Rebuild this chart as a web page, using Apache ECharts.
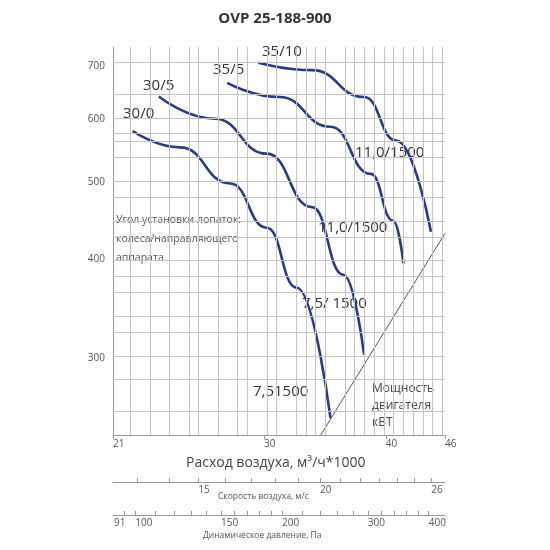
<!DOCTYPE html>
<html><head><meta charset="utf-8">
<script src="https://cdn.jsdelivr.net/npm/echarts@6/dist/echarts.min.js"></script>
<style>html,body{margin:0;padding:0;background:#fff}#c{width:550px;height:550px}</style>
</head><body><div id="c"></div>
<script>
// Air flow (m3/h*1000) and pressure (Pa)
const flow_30_0 = [22.0, 24.6, 27.7, 30.2, 32.4, 35.1];
const pres_30_0 = [580, 553, 498, 438, 368, 252];
const flow_30_5 = [23.4, 26.7, 30.2, 33.6, 36.2, 38.0];
const pres_30_5 = [641, 601, 543, 465, 382, 303];
const flow_35_5 = [27.5, 31.1, 35.1, 38.6, 40.7, 41.7];
const pres_35_5 = [667, 640, 587, 512, 447, 395];
const flow_35_10 = [29.6, 33.6, 38.0, 41.0, 44.5];
const pres_35_10 = [707, 692, 640, 564, 433];
const powerFlow = [34.3, 46];
const powerPres = [240, 431];
const xTicks = [21, 30, 40, 46];
const yTicks = [300, 400, 500, 600, 700];
const speedTicks = [13,14,15,16,17,18,19,20,21,22,23,24,25,26];
const speedLabels = [15, 20, 26];
const presTicks = [90,95,100,110,120,130,140,150,160,170,180,190,200,220,240,260,280,300,320,340,360,380,400];
const presLabels = [90.5, 100, 150, 200, 300, 400];
const gridX = [22,23,24,25,26,27,28,29,30,31,32,33,34,35,36,37,38,39,40,41,42,43,44,45];
const gridY = [260,280,300,320,340,360,380,400,425,450,475,500,540,560,580,600,650,700];

const L = Math.log10;
const SPEED_K = 0.584, PRES_C = -0.69;
const pair = (xs, ys) => xs.map((x, i) => [L(x), L(ys[i])]);
const ax = { color:'#555', fontSize:10, fontFamily:'Open Sans' };
const FONT = 'Open Sans';
const curve = (d) => ({ type:'line', data:d, smooth:true, smoothMonotone:'x', symbol:'none', lineStyle:{color:'#2b3a87', width:2.6}, silent:true });

const chart = echarts.init(document.getElementById('c'), null, {renderer:'canvas'});
chart.setOption({
  animation:false,
  grid:{left:113, right:105, top:47, bottom:115},
  title:{text:'OVP 25-188-900', left:'center', top:6, textStyle:{fontFamily:FONT, fontSize:15, fontWeight:'bold', color:'#333'}},
  xAxis:[
    {type:'value', min:L(21), max:L(46), position:'bottom',
     axisLine:{show:true, lineStyle:{color:'#999'}},
     axisTick:{show:true, customValues:xTicks.map(L), length:4, lineStyle:{color:'#999'}},
     axisLabel:{...ax, customValues:xTicks.map(L), formatter:v=>Math.round(Math.pow(10,v)), align:'left', margin:4},
     splitLine:{show:false}},
    {type:'value', min:L(21*SPEED_K), max:L(46*SPEED_K), position:'bottom', offset:47,
     axisLine:{show:true, lineStyle:{color:'#999'}},
     axisTick:{show:true, inside:true, customValues:speedTicks.map(L), length:4, lineStyle:{color:'#999'}},
     axisLabel:{...ax, customValues:speedLabels.map(L), formatter:v=>Math.round(Math.pow(10,v)), align:'left', margin:3},
     splitLine:{show:false}},
    {type:'value', min:2*L(21)+PRES_C, max:2*L(46)+PRES_C, position:'bottom', offset:80,
     axisLine:{show:true, lineStyle:{color:'#999'}},
     axisTick:{show:true, inside:true, customValues:presTicks.map(L), length:4, lineStyle:{color:'#999'}},
     axisLabel:{...ax, customValues:presLabels.map(L), showMinLabel:true, hideOverlap:false, formatter:v=>Math.round(Math.pow(10,v)), align:'left', margin:3},
     splitLine:{show:false}}
  ],
  yAxis:{type:'value', min:L(240), max:L(740),
     axisLine:{show:true, lineStyle:{color:'#999'}},
     axisTick:{show:false},
     axisLabel:{...ax, customValues:yTicks.map(L), formatter:v=>Math.round(Math.pow(10,v)), margin:8},
     splitLine:{show:false}},
  series:[
    {type:'line', data:[], silent:true,
     markLine:{silent:true, symbol:'none', label:{show:false}, animation:false,
       lineStyle:{color:'#c4c4c4', width:1, type:'solid'},
       data:[...gridX.map(v=>({xAxis:L(v)})), ...gridY.map(v=>({yAxis:L(v)})), {xAxis:L(46)}, {yAxis:L(740)}]}},
    curve(pair(flow_30_0, pres_30_0)),
    curve(pair(flow_30_5, pres_30_5)),
    curve(pair(flow_35_5, pres_35_5)),
    curve(pair(flow_35_10, pres_35_10)),
    {type:'line', data:pair(powerFlow, powerPres), symbol:'none', lineStyle:{color:'#555', width:1}, silent:true}
  ],
  graphic:[
    {type:'text', left:262, top:44, style:{text:'35/10', font:'15px "Open Sans"', fill:'#333'}},
    {type:'text', left:213, top:62, style:{text:'35/5', font:'15px "Open Sans"', fill:'#333'}},
    {type:'text', left:143, top:78, style:{text:'30/5', font:'15px "Open Sans"', fill:'#333'}},
    {type:'text', left:123, top:106, style:{text:'30/0', font:'15px "Open Sans"', fill:'#333'}},
    {type:'text', left:355, top:145, style:{text:'11,0/1500', font:'15px "Open Sans"', fill:'#333'}},
    {type:'text', left:318, top:220, style:{text:'11,0/1500', font:'15px "Open Sans"', fill:'#333'}},
    {type:'text', left:302, top:296, style:{text:'7,5/ 1500', font:'15px "Open Sans"', fill:'#333'}},
    {type:'text', left:253, top:384, style:{text:'7,51500', font:'15px "Open Sans"', fill:'#333'}},
    {type:'text', left:372, top:380, style:{text:'Мощность\nдвигателя,\nкВТ', font:'12px "Open Sans"', lineHeight:17, fill:'#444'}},
    {type:'text', left:116, top:211, style:{text:'Угол установки лопаток:\nколеса/направляющего\nаппарата', font:'10.5px "Open Sans"', lineHeight:19, fill:'#555'}},
    {type:'text', left:186, top:456, style:{text:'Расход воздуха, м³/ч*1000', font:'14px "Open Sans"', fill:'#444'}},
    {type:'text', left:218, top:492, style:{text:'Скорость воздуха, м/с', font:'8.5px "Open Sans"', fill:'#555'}},
    {type:'text', left:203, top:531, style:{text:'Динамическое давление, Па', font:'8.5px "Open Sans"', fill:'#555'}}
  ]
});
</script></body></html>
